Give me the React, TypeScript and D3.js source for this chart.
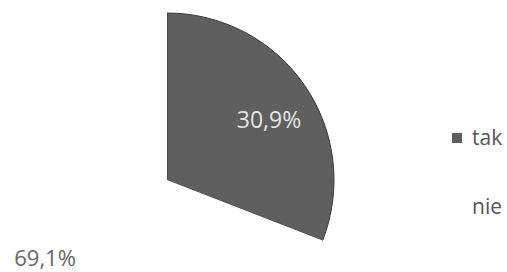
import React from 'react';
import * as d3 from 'd3';

const categories = ['tak', 'nie'];
const values = [30.9, 69.1];
const labels = ['30,9%', '69,1%'];
const sliceColors = ['#5f5f5f', '#ffffff'];

export default function App() {
  const width = 507;
  const height = 272;
  const cx = 167;
  const cy = 180;
  const radius = 167;

  const pie = d3.pie<number>().sort(null).value(d => d);
  const arcs = pie(values);
  const arc = d3.arc<d3.PieArcDatum<number>>().innerRadius(0).outerRadius(radius);
  // labels: inside for the dark slice, further out for the white one
  const labelRadius = [0.74 * radius, 0.885 * radius];
  const labelShift = [10, -5];

  const legendY = d3.scalePoint<string>()
    .domain(categories)
    .range([138, 207]);

  return (
    <svg
      width={width}
      height={height}
      style={{ position: 'absolute', left: 0, top: 0, background: '#fff', fontFamily: '"Open Sans", sans-serif' }}
    >
      <g transform={`translate(${cx},${cy})`}>
        {arcs.map((a, i) => (
          <path
            key={categories[i]}
            d={arc(a) || ''}
            fill={sliceColors[i]}
            stroke={i === 0 ? '#3a3a3a' : 'none'}
            strokeWidth={1}
          />
        ))}
        {arcs.map((a, i) => {
          const [lx, ly] = d3.arc<d3.PieArcDatum<number>>()
            .innerRadius(labelRadius[i])
            .outerRadius(labelRadius[i])
            .centroid(a);
          return (
            <text
              key={'l' + i}
              x={lx}
              y={ly + labelShift[i]}
              dy="0.35em"
              textAnchor="middle"
              fontSize={i === 0 ? 23 : 22}
              fill={i === 0 ? '#e4e4e4' : '#666'}
            >
              {labels[i]}
            </text>
          );
        })}
      </g>
      {/* Legend */}
      {categories.map((c, i) => (
        <g key={c} transform={`translate(452,${legendY(c)})`}>
          <rect x={0} y={-5} width={10} height={10} fill={sliceColors[i]} />
          <text x={20} y={0} dy="0.35em" fontSize={21} fill="#555">
            {c}
          </text>
        </g>
      ))}
    </svg>
  );
}
